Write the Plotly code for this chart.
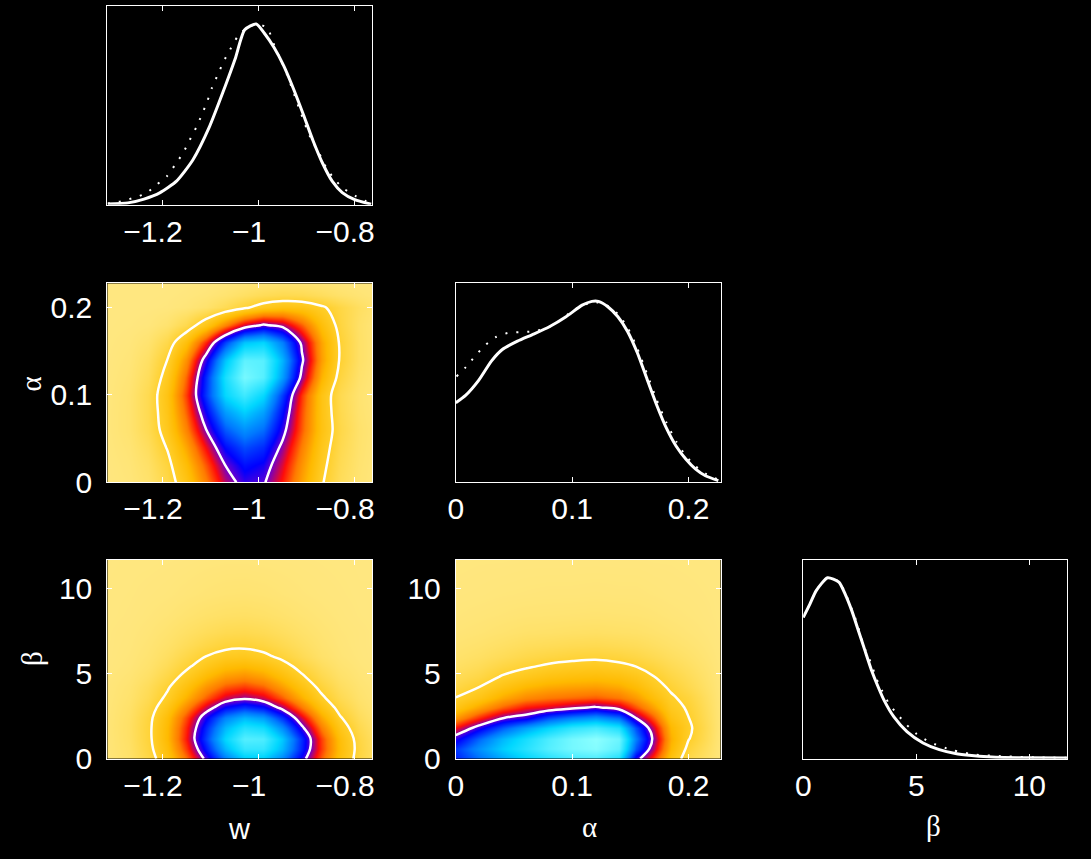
import plotly.graph_objects as go

# ---------------- data ----------------
w_line_x = [-1.314, -1.272, -1.2385, -1.205, -1.171, -1.137, -1.103, -1.07, -1.049, -1.029,
            -1.005, -0.9885, -0.968, -0.948, -0.928, -0.907, -0.887, -0.867, -0.847, -0.826,
            -0.80, -0.766]
w_line_y = [0.005, 0.011, 0.032, 0.068, 0.131, 0.248, 0.428, 0.653, 0.806, 0.968,
            1.0, 0.95, 0.87, 0.77, 0.645, 0.50, 0.356, 0.230, 0.131, 0.068,
            0.029, 0.004]
w_dot_x = [-1.314, -1.285, -1.261, -1.235, -1.2115, -1.191, -1.174, -1.157, -1.144, -1.130,
           -1.118, -1.107, -1.097, -1.085, -1.073, -1.059, -1.044, -1.026, -1.003, -0.982,
           -0.965, -0.953, -0.941, -0.931, -0.921, -0.911, -0.901, -0.889, -0.874, -0.860,
           -0.843, -0.823, -0.799, -0.779, -0.766]
w_dot_y = [0.008, 0.02, 0.038, 0.063, 0.113, 0.158, 0.221, 0.288, 0.356, 0.428,
           0.50, 0.572, 0.648, 0.72, 0.792, 0.86, 0.929, 0.977, 1.0, 0.977,
           0.864, 0.797, 0.72, 0.648, 0.572, 0.50, 0.428, 0.353, 0.284, 0.209,
           0.144, 0.09, 0.05, 0.023, 0.012]

a_line_x = [0, 0.0084, 0.0195, 0.0306, 0.040, 0.053, 0.0669, 0.0808, 0.0947, 0.1086,
            0.1170, 0.1226, 0.1309, 0.1393, 0.1476, 0.156, 0.1643, 0.1727, 0.181, 0.1894,
            0.1978, 0.2061, 0.2145, 0.2256]
a_line_y = [0.439, 0.48, 0.562, 0.67, 0.734, 0.78, 0.819, 0.861, 0.915, 0.979,
            1.0, 1.0, 0.969, 0.915, 0.834, 0.716, 0.571, 0.426, 0.299, 0.199,
            0.127, 0.0725, 0.036, 0.009]
a_dot_x = [0.0006, 0.0089, 0.0167, 0.025, 0.034, 0.0446, 0.0552, 0.0663, 0.078, 0.0891,
           0.1003, 0.107, 0.118, 0.128, 0.1393, 0.1476, 0.156, 0.1643, 0.1727, 0.181,
           0.1894, 0.1978, 0.2061, 0.2145, 0.2256]
a_dot_y = [0.585, 0.638, 0.698, 0.756, 0.801, 0.825, 0.83, 0.834, 0.852, 0.892,
           0.948, 0.97, 0.997, 0.984, 0.93, 0.855, 0.74, 0.60, 0.455, 0.33,
           0.225, 0.145, 0.088, 0.048, 0.015]

b_line_x = [0, 0.287, 0.573, 1.074, 1.576, 1.862, 2.149, 2.436, 2.722, 3.009,
            3.295, 3.582, 4.01, 4.585, 5.30, 6.017, 6.73, 7.45, 8.17, 8.88,
            10.03, 11.66]
b_line_y = [0.781, 0.853, 0.929, 1.0, 0.976, 0.907, 0.817, 0.709, 0.60, 0.492,
            0.402, 0.321, 0.231, 0.15, 0.087, 0.05, 0.029, 0.018, 0.011, 0.007,
            0.005, 0.004]
b_dot_x = [0, 0.287, 0.573, 1.074, 1.576, 1.862, 2.149, 2.364, 2.55, 2.75,
           3.009, 3.22, 3.467, 3.796, 4.18, 4.585, 5.01, 5.59, 6.59, 7.59,
           8.88, 10.5, 11.66]
b_dot_y = [0.781, 0.853, 0.929, 1.0, 0.98, 0.915, 0.826, 0.754, 0.676, 0.60,
           0.525, 0.447, 0.38, 0.303, 0.243, 0.186, 0.137, 0.092, 0.047, 0.023,
           0.013, 0.007, 0.005]

w_grid = [-1.315, -1.27, -1.23, -1.19, -1.15, -1.11, -1.07, -1.03, -0.99, -0.95,
          -0.91, -0.87, -0.83, -0.79, -0.765]
alpha_rows = [0, 0.02, 0.04, 0.06, 0.08, 0.10, 0.12, 0.14, 0.16, 0.18, 0.20, 0.214, 0.228]
beta_rows = [0, 0.6, 1.2, 1.8, 2.4, 3.0, 3.6, 4.2, 4.8, 5.4, 6.0, 6.6, 7.4, 8.4, 9.6, 11.66]
alpha_cols = [0, 0.02, 0.04, 0.06, 0.08, 0.10, 0.12, 0.14, 0.155, 0.17, 0.185, 0.20, 0.227]

dens_w_alpha = [
    [0.002, 0.008, 0.025, 0.066, 0.143, 0.252, 0.363, 0.426, 0.409, 0.321, 0.206, 0.108, 0.046, 0.016, 0.008],
    [0.002, 0.011, 0.032, 0.081, 0.168, 0.285, 0.400, 0.462, 0.440, 0.346, 0.224, 0.120, 0.053, 0.019, 0.009],
    [0.004, 0.015, 0.044, 0.104, 0.205, 0.336, 0.458, 0.518, 0.488, 0.382, 0.249, 0.134, 0.060, 0.023, 0.011],
    [0.005, 0.020, 0.056, 0.129, 0.247, 0.396, 0.529, 0.589, 0.548, 0.425, 0.276, 0.149, 0.067, 0.025, 0.013],
    [0.005, 0.020, 0.058, 0.140, 0.277, 0.451, 0.605, 0.670, 0.611, 0.460, 0.285, 0.146, 0.061, 0.021, 0.010],
    [0.004, 0.019, 0.058, 0.146, 0.300, 0.503, 0.686, 0.760, 0.686, 0.503, 0.300, 0.146, 0.058, 0.019, 0.008],
    [0.003, 0.014, 0.046, 0.125, 0.275, 0.492, 0.712, 0.834, 0.791, 0.608, 0.378, 0.190, 0.077, 0.026, 0.012],
    [0.002, 0.010, 0.036, 0.101, 0.233, 0.435, 0.657, 0.803, 0.794, 0.636, 0.413, 0.217, 0.092, 0.032, 0.015],
    [0.001, 0.006, 0.021, 0.065, 0.160, 0.318, 0.509, 0.657, 0.682, 0.571, 0.384, 0.209, 0.091, 0.032, 0.015],
    [0.000, 0.002, 0.006, 0.022, 0.062, 0.139, 0.249, 0.356, 0.409, 0.377, 0.278, 0.164, 0.078, 0.030, 0.014],
    [0.000, 0.000, 0.001, 0.003, 0.010, 0.025, 0.053, 0.091, 0.129, 0.149, 0.142, 0.111, 0.071, 0.037, 0.023],
    [0.000, 0.000, 0.000, 0.001, 0.004, 0.010, 0.021, 0.036, 0.051, 0.060, 0.057, 0.044, 0.028, 0.015, 0.009],
    [0.000, 0.000, 0.000, 0.000, 0.001, 0.003, 0.007, 0.012, 0.017, 0.020, 0.019, 0.015, 0.009, 0.005, 0.003],
]

dens_w_beta = [
    [0.008, 0.028, 0.068, 0.144, 0.264, 0.416, 0.564, 0.660, 0.665, 0.577, 0.432, 0.278, 0.154, 0.074, 0.043],
    [0.010, 0.031, 0.078, 0.165, 0.302, 0.474, 0.641, 0.746, 0.746, 0.641, 0.474, 0.302, 0.165, 0.078, 0.045],
    [0.010, 0.034, 0.083, 0.178, 0.325, 0.509, 0.684, 0.789, 0.780, 0.661, 0.481, 0.299, 0.160, 0.073, 0.042],
    [0.011, 0.035, 0.084, 0.176, 0.316, 0.486, 0.641, 0.725, 0.703, 0.585, 0.417, 0.255, 0.134, 0.060, 0.034],
    [0.010, 0.033, 0.080, 0.166, 0.293, 0.444, 0.575, 0.639, 0.607, 0.494, 0.345, 0.206, 0.105, 0.046, 0.026],
    [0.009, 0.029, 0.069, 0.139, 0.242, 0.359, 0.458, 0.500, 0.468, 0.376, 0.259, 0.153, 0.077, 0.034, 0.018],
    [0.008, 0.024, 0.056, 0.111, 0.190, 0.279, 0.352, 0.380, 0.352, 0.279, 0.190, 0.111, 0.056, 0.024, 0.013],
    [0.007, 0.020, 0.047, 0.092, 0.155, 0.226, 0.281, 0.300, 0.275, 0.215, 0.145, 0.084, 0.041, 0.018, 0.010],
    [0.005, 0.015, 0.034, 0.070, 0.120, 0.176, 0.220, 0.235, 0.213, 0.165, 0.109, 0.061, 0.029, 0.012, 0.006],
    [0.003, 0.010, 0.025, 0.052, 0.090, 0.134, 0.169, 0.180, 0.162, 0.124, 0.080, 0.044, 0.020, 0.008, 0.004],
    [0.002, 0.008, 0.019, 0.039, 0.068, 0.100, 0.124, 0.129, 0.114, 0.085, 0.053, 0.028, 0.013, 0.005, 0.002],
    [0.002, 0.006, 0.015, 0.029, 0.049, 0.070, 0.086, 0.090, 0.079, 0.060, 0.039, 0.021, 0.010, 0.004, 0.002],
    [0.002, 0.005, 0.011, 0.021, 0.034, 0.047, 0.057, 0.060, 0.053, 0.041, 0.027, 0.016, 0.008, 0.004, 0.002],
    [0.001, 0.003, 0.007, 0.012, 0.020, 0.028, 0.033, 0.035, 0.031, 0.024, 0.016, 0.010, 0.005, 0.002, 0.001],
    [0.001, 0.002, 0.004, 0.006, 0.010, 0.014, 0.017, 0.018, 0.016, 0.012, 0.008, 0.005, 0.003, 0.001, 0.001],
    [0.000, 0.001, 0.001, 0.002, 0.003, 0.005, 0.006, 0.006, 0.005, 0.004, 0.003, 0.002, 0.001, 0.000, 0.000],
]

dens_alpha_beta = [
    [0.48, 0.55, 0.62, 0.68, 0.73, 0.77, 0.78, 0.72, 0.43, 0.30, 0.15, 0.063, 0.005],
    [0.50, 0.59, 0.67, 0.73, 0.79, 0.83, 0.85, 0.80, 0.53, 0.36, 0.18, 0.084, 0.007],
    [0.43, 0.54, 0.64, 0.71, 0.78, 0.83, 0.86, 0.82, 0.57, 0.385, 0.195, 0.104, 0.009],
    [0.33, 0.43, 0.53, 0.61, 0.68, 0.74, 0.77, 0.72, 0.52, 0.35, 0.18, 0.112, 0.010],
    [0.22, 0.31, 0.395, 0.43, 0.52, 0.57, 0.60, 0.55, 0.395, 0.28, 0.15, 0.101, 0.010],
    [0.14, 0.21, 0.28, 0.33, 0.35, 0.38, 0.41, 0.37, 0.29, 0.21, 0.125, 0.092, 0.009],
    [0.10, 0.14, 0.20, 0.24, 0.26, 0.27, 0.28, 0.26, 0.22, 0.16, 0.108, 0.080, 0.008],
    [0.07, 0.10, 0.145, 0.18, 0.20, 0.21, 0.215, 0.20, 0.17, 0.125, 0.09, 0.060, 0.007],
    [0.05, 0.07, 0.105, 0.13, 0.15, 0.16, 0.165, 0.155, 0.135, 0.102, 0.072, 0.048, 0.006],
    [0.035, 0.05, 0.075, 0.093, 0.11, 0.12, 0.125, 0.115, 0.10, 0.078, 0.055, 0.037, 0.005],
    [0.025, 0.035, 0.05, 0.065, 0.075, 0.083, 0.088, 0.08, 0.07, 0.055, 0.04, 0.027, 0.004],
    [0.018, 0.025, 0.035, 0.045, 0.05, 0.055, 0.058, 0.053, 0.048, 0.038, 0.028, 0.019, 0.003],
    [0.012, 0.016, 0.022, 0.028, 0.03, 0.033, 0.035, 0.032, 0.03, 0.024, 0.018, 0.012, 0.002],
    [0.007, 0.01, 0.013, 0.016, 0.017, 0.018, 0.019, 0.018, 0.017, 0.014, 0.01, 0.007, 0.001],
    [0.004, 0.005, 0.007, 0.008, 0.009, 0.009, 0.01, 0.009, 0.009, 0.007, 0.005, 0.004, 0.001],
    [0.001, 0.002, 0.002, 0.003, 0.003, 0.003, 0.003, 0.003, 0.003, 0.002, 0.002, 0.001, 0.0],
]

contour_levels = [0.1, 0.4]   # 95% and 68% credible levels

NB = "\u00a0\u00a0\u200a"
w_ticks = [-1.2, -1.0, -0.8]
w_ticktext = ["\u22121.2" + NB, "\u22121" + NB, "\u22120.8" + NB]
a_ticks = [0, 0.1, 0.2]
a_ticktext = ["0", "0.1", "0.2"]
b_ticks = [0, 5, 10]
b_ticktext = ["0", "5", "10"]

w_range = [-1.315, -0.764]
a_range = [0, 0.2275]
b_range = [0, 11.67]

# ---------------- style ----------------
ZMAX = 0.86
cs_points = [
    (0.00, "rgb(255,231,128)"),
    (0.03, "rgb(255,225,104)"),
    (0.10, "rgb(255,208,45)"),
    (0.18, "rgb(255,186,0)"),
    (0.26, "rgb(255,122,0)"),
    (0.33, "rgb(255,12,10)"),
    (0.40, "rgb(110,0,205)"),
    (0.45, "rgb(0,0,255)"),
    (0.56, "rgb(0,120,255)"),
    (0.68, "rgb(0,215,255)"),
    (0.86, "rgb(140,255,255)"),
]
colorscale = [[v / ZMAX, c] for v, c in cs_points]

TICK_FONT = dict(family="Liberation Sans, Arial, sans-serif", size=30, color="white")

fig = go.Figure()


def add_2d(xg, yg, z, xa, ya):
    fig.add_trace(go.Heatmap(x=xg, y=yg, z=z, colorscale=colorscale, zmin=0, zmax=ZMAX,
                             zsmooth="best", showscale=False, hoverinfo="skip",
                             xaxis=xa, yaxis=ya))
    fig.add_trace(go.Contour(x=xg, y=yg, z=z, autocontour=False,
                             contours=dict(start=contour_levels[0], end=contour_levels[1],
                                           size=contour_levels[1] - contour_levels[0],
                                           coloring="none"),
                             line=dict(color="white", width=2.5, smoothing=1.0),
                             showscale=False, hoverinfo="skip", xaxis=xa, yaxis=ya))


def add_1d(lx, ly, dx, dy, xa, ya):
    fig.add_trace(go.Scatter(x=dx, y=dy, mode="lines",
                             line=dict(color="white", width=2, dash="2px,9px",
                                       shape="spline", smoothing=0.6),
                             hoverinfo="skip", xaxis=xa, yaxis=ya))
    fig.add_trace(go.Scatter(x=lx, y=ly, mode="lines",
                             line=dict(color="white", width=3, shape="spline", smoothing=0.6),
                             hoverinfo="skip", xaxis=xa, yaxis=ya))


add_1d(w_line_x, w_line_y, w_dot_x, w_dot_y, "x", "y")
add_2d(w_grid, alpha_rows, dens_w_alpha, "x2", "y2")
add_1d(a_line_x, a_line_y, a_dot_x, a_dot_y, "x3", "y3")
add_2d(w_grid, beta_rows, dens_w_beta, "x4", "y4")
add_2d(alpha_cols, beta_rows, dens_alpha_beta, "x5", "y5")
add_1d(b_line_x, b_line_y, b_dot_x, b_dot_y, "x6", "y6")

W, H = 1091, 859
cols = [(102, 374), (460, 732), (817, 1088)]
rows = [(6, 209), (289, 492), (571, 774)]


def xdom(c):
    return [cols[c][0] / W, cols[c][1] / W]


def ydom(r):
    return [1 - rows[r][1] / H, 1 - rows[r][0] / H]


def xaxis(c, anchor, rng, tv, tt):
    return dict(domain=xdom(c), anchor=anchor, range=rng, tickvals=tv, ticktext=tt,
                showline=True, linecolor="white", linewidth=1, mirror="ticks",
                ticks="inside", ticklen=5, tickwidth=1, tickcolor="white",
                showgrid=False, zeroline=False, tickfont=TICK_FONT,
                ticklabelstandoff=0, fixedrange=True)


def yaxis(r, anchor, rng, tv=None, tt=None):
    d = dict(domain=ydom(r), anchor=anchor, range=rng,
             showline=True, linecolor="white", linewidth=1,
             showgrid=False, zeroline=False, tickfont=TICK_FONT, fixedrange=True)
    if tv is None:
        d.update(mirror=True, ticks="", showticklabels=False)
    else:
        d.update(mirror="ticks", ticks="inside", ticklen=5, tickwidth=1, tickcolor="white",
                 tickvals=tv, ticktext=tt, ticklabelstandoff=8)
    return d


fig.update_layout(
    width=W, height=H,
    margin=dict(l=0, r=0, t=0, b=0),
    paper_bgcolor="black", plot_bgcolor="black",
    showlegend=False,
    xaxis=xaxis(0, "y", w_range, w_ticks, w_ticktext),
    yaxis=yaxis(0, "x", [0, 1.1]),
    xaxis2=xaxis(0, "y2", w_range, w_ticks, w_ticktext),
    yaxis2=yaxis(1, "x2", [0, 0.228], a_ticks, a_ticktext),
    xaxis3=xaxis(1, "y3", a_range, a_ticks, a_ticktext),
    yaxis3=yaxis(1, "x3", [0, 1.1]),
    xaxis4=xaxis(0, "y4", w_range, w_ticks, w_ticktext),
    yaxis4=yaxis(2, "x4", b_range, b_ticks, b_ticktext),
    xaxis5=xaxis(1, "y5", a_range, a_ticks, a_ticktext),
    yaxis5=yaxis(2, "x5", b_range, b_ticks, b_ticktext),
    xaxis6=xaxis(2, "y6", b_range, b_ticks, b_ticktext),
    yaxis6=yaxis(2, "x6", [0, 1.1]),
)

SANS = "Liberation Sans, Arial, sans-serif"
SERIF = "Liberation Serif, Times New Roman, serif"
labels = [
    ("w", 238, 846, 0, SANS),
    ("\u03b1", 597, 844, 0, SERIF),
    ("\u03b2", 951, 843, 0, SERIF),
    ("\u03b1", 24, 392, -90, SERIF),
    ("\u03b2", 24, 672, -90, SERIF),
]
for txt, px, py, ang, fam in labels:
    fig.add_annotation(text=txt, x=px / W, y=1 - py / H, xref="paper", yref="paper",
                       xanchor="center", yanchor="middle", showarrow=False,
                       textangle=ang, font=dict(family=fam, size=29, color="white"))

fig.write_html("out.html")
